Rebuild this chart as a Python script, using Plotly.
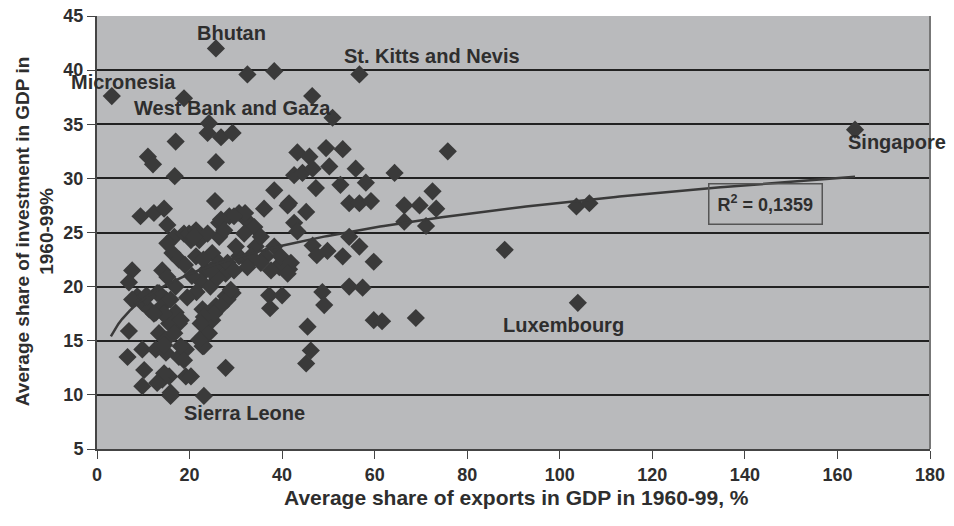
"""Scatter of investment share vs export share in GDP, 1960-99."""

import numpy as np
import plotly.graph_objects as go

# Average share of exports in GDP, 1960-99 (%)
exports = [
    3.2, 18.8, 25.7, 32.5, 38.3, 56.7, 46.5, 50.9, 24.2, 23.9, 26.8, 29.3,
    17.0, 11.0, 12.1, 25.7, 16.8, 25.5, 9.4, 12.3, 14.5, 38.3, 36.1, 41.2,
    42.6, 43.3, 45.2, 43.3, 45.9, 49.5, 53.1, 42.6, 44.4, 46.6, 50.2, 55.9,
    47.3, 52.6, 58.1, 54.5, 56.7, 59.2, 41.5, 64.3, 75.8, 72.5, 66.4, 69.7,
    73.3, 66.4, 71.1, 103.6, 106.4, 88.1, 163.8, 103.9, 46.6, 49.8, 53.1,
    54.5, 56.7, 59.8, 39.4, 41.5, 47.5, 37.2, 40.0, 37.4, 48.7, 49.1, 54.5,
    57.4, 59.8, 61.6, 68.9, 45.5, 46.2, 45.2,
    7.6, 6.9, 8.7, 7.6, 9.8, 6.9, 6.6, 10.2, 9.8, 9.8, 12.7, 14.9, 12.7,
    14.9, 17.7, 15.6, 13.4, 14.9, 19.2, 17.7, 19.2, 15.6, 15.9, 14.1, 23.1,
    27.8, 22.8, 24.2, 24.9, 22.8, 25.7, 27.8, 29.3, 17.0, 14.1, 11.3, 10.5,
    13.4, 14.1, 17.0, 14.1, 15.2, 13.0, 10.9, 15.9, 14.5, 12.3, 14.5, 16.7,
    18.1, 18.1, 18.8, 20.3, 14.5, 13.0, 15.9, 15.2, 16.7, 15.2, 16.3, 18.8,
    20.3, 19.9, 22.1, 26.4, 28.6, 30.7, 32.2, 26.4, 21.4, 17.7, 21.4, 23.5,
    24.9, 26.4, 27.8, 30.7, 32.9, 30.0, 34.3, 36.5, 39.4, 32.0, 29.6, 26.8,
    34.0, 27.5, 31.8, 35.4, 23.9, 21.0, 38.3, 39.7, 41.9, 41.2, 37.6, 35.4,
    33.2, 32.5, 28.2, 29.6, 28.2, 28.9, 26.8, 25.3, 23.1, 23.9, 23.1, 22.4,
    22.1, 22.4, 24.5, 20.5, 26.0, 23.0, 19.0, 21.5, 19.5, 24.5,
]

# Average share of investment in GDP, 1960-99 (%)
investment = [
    37.6, 37.4, 42.0, 39.6, 39.9, 39.6, 37.6, 35.6, 35.1, 34.2, 33.8, 34.2,
    33.4, 32.0, 31.3, 31.5, 30.2, 27.9, 26.5, 26.8, 27.2, 28.9, 27.2, 27.5,
    25.9, 25.1, 26.9, 32.4, 32.0, 32.8, 32.7, 30.3, 30.5, 30.9, 31.1, 30.9,
    29.1, 29.4, 29.6, 27.7, 27.7, 27.9, 27.7, 30.5, 32.5, 28.8, 27.5, 27.5,
    27.2, 26.0, 25.6, 27.4, 27.7, 23.4, 34.5, 18.5, 23.8, 23.3, 22.8,
    24.6, 23.7, 22.3, 22.0, 21.6, 22.9, 19.2, 19.2, 18.0, 19.5, 18.3, 20.0,
    19.9, 16.9, 16.8, 17.1, 16.3, 14.1, 12.9,
    21.5, 20.4, 19.1, 18.8, 18.5, 15.9, 13.5, 12.3, 10.8, 14.2, 14.2, 13.9,
    17.6, 18.8, 16.6, 16.6, 15.7, 15.1, 14.2, 13.5, 11.7, 11.7, 9.9, 11.4,
    9.9, 12.5, 14.5, 15.7, 16.9, 17.9, 18.2, 19.1, 19.4, 17.6, 17.6, 17.9,
    19.1, 19.4, 18.2, 20.0, 21.5, 20.9, 19.4, 19.1, 18.8, 17.5, 17.5, 14.6,
    15.7, 16.9, 14.5, 13.2, 11.7, 12.0, 11.1, 10.2, 25.7, 24.6, 24.0, 23.1,
    24.9, 24.3, 24.9, 24.3, 24.6, 26.5, 26.8, 26.2, 25.9, 25.2, 22.5, 22.8,
    21.5, 23.1, 22.2, 21.2, 22.8, 22.2, 23.7, 23.7, 22.8, 21.8, 26.8, 26.5,
    26.2, 25.5, 25.2, 24.9, 24.6, 24.9, 24.6, 23.7, 22.8, 22.2, 21.2, 21.5,
    22.2, 22.8, 21.8, 22.2, 21.5, 18.8, 19.7, 18.2, 17.5, 17.2, 15.7, 14.5,
    16.6, 15.1, 20.5, 20.0, 21.0, 20.8, 22.5, 22.0, 19.5, 19.0, 21.5,
]

labels = ["Bhutan", "St. Kitts and Nevis", "Micronesia", "West Bank and Gaza",
          "Singapore", "Luxembourg", "Sierra Leone"]
label_x = [29.0, 72.3, 5.8, 29.2, 172.9, 100.8, 31.8]
label_y = [43.4, 41.3, 38.9, 36.5, 33.4, 16.5, 8.3]

r2_text = "R<sup>2</sup> = 0,1359"

x_ticks = list(range(0, 181, 20))
y_ticks = list(range(5, 46, 5))

# Power trend line y = c * x^p, coefficients
trend_c = 12.8
trend_p = 0.168
trend_x = np.linspace(3.0, 163.8, 200)
trend_y = trend_c * trend_x ** trend_p

font_name = "Liberation Sans, Arial, sans-serif"
dark = "#3a3a3a"
text_col = "#2e2e2e"

fig = go.Figure()

fig.add_trace(
    go.Scatter(
        x=exports,
        y=investment,
        mode="markers",
        marker={"symbol": "diamond", "size": 14, "color": dark,
                "line": {"width": 0}},
        hoverinfo="x+y",
    )
)

fig.add_trace(
    go.Scatter(
        x=trend_x,
        y=trend_y,
        mode="lines",
        line={"color": dark, "width": 2.5},
        hoverinfo="skip",
    )
)

for text, lx, ly in zip(labels, label_x, label_y):
    fig.add_annotation(
        x=lx, y=ly, text=f"<b>{text}</b>", showarrow=False,
        font={"family": font_name, "size": 20, "color": text_col},
    )

fig.add_annotation(
    x=144.5, y=27.6, text=f"<b>{r2_text}</b>", showarrow=False,
    font={"family": font_name, "size": 18, "color": text_col},
    bordercolor="#555555", borderwidth=1.5, borderpad=8,
    bgcolor="rgba(0,0,0,0)",
)

# axis titles
fig.add_annotation(
    xref="paper", yref="paper", x=0.504, y=0, yshift=-48,
    xanchor="center", yanchor="middle",
    text="<b>Average share of exports in GDP in 1960-99, %</b>",
    showarrow=False, font={"family": font_name, "size": 21, "color": text_col},
)
fig.add_annotation(
    xref="paper", yref="paper", x=0, y=0.503, xshift=-62, textangle=-90,
    xanchor="center", yanchor="middle",
    text="<b>Average share of investment in GDP in<br>1960-99%</b>",
    showarrow=False, font={"family": font_name, "size": 19, "color": text_col},
)

# page body adds an 8px offset, so the figure is 8px smaller than the window
fig.update_layout(
    width=946,
    height=518,
    margin={"l": 89, "r": 24, "t": 8, "b": 77},
    paper_bgcolor="white",
    plot_bgcolor="#b9babc",
    showlegend=False,
    font={"family": font_name, "color": text_col},
    xaxis={
        "range": [0, 180],
        "tickvals": x_ticks,
        "ticks": "outside",
        "ticklen": 8,
        "tickcolor": "#444444",
        "tickfont": {"size": 18, "family": font_name, "weight": "bold"},
        "ticklabeloverflow": "allow",
        "showgrid": False,
        "zeroline": False,
        "showline": True,
        "linecolor": "#444444",
        "linewidth": 2,
        "automargin": False,
    },
    yaxis={
        "range": [5, 45],
        "tickvals": y_ticks,
        "ticks": "outside",
        "ticklen": 8,
        "tickcolor": "#444444",
        "tickfont": {"size": 18, "family": font_name, "weight": "bold"},
        "ticklabeloverflow": "allow",
        "showgrid": True,
        "gridcolor": "#222222",
        "gridwidth": 1.5,
        "zeroline": False,
        "showline": True,
        "linecolor": "#444444",
        "linewidth": 2,
        "automargin": False,
    },
)

# right border of the plot area
fig.add_shape(type="line", xref="paper", yref="paper", x0=1, x1=1, y0=0, y1=1,
              line={"color": "#777777", "width": 2})

fig.write_html("out.html")
